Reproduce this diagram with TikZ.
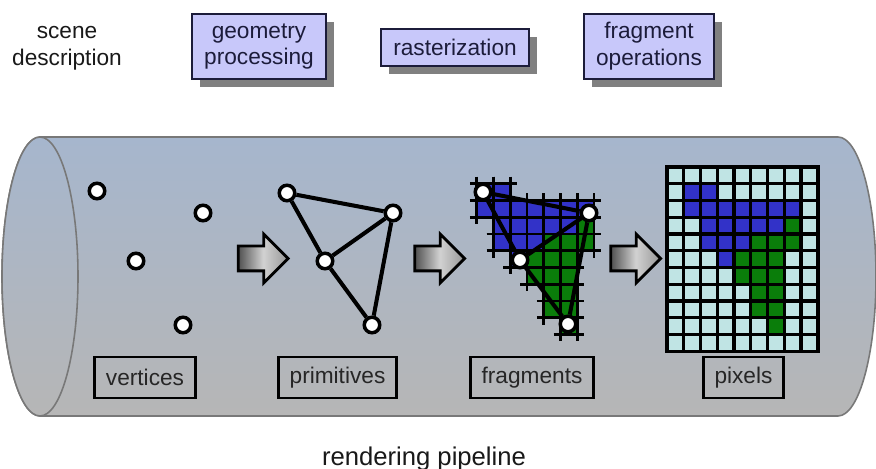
\documentclass[tikz,border=0pt]{standalone}
\usepackage{fontspec}
\setmainfont{Liberation Sans}
\usepackage{tikz}
\usetikzlibrary{arrows.meta, shapes.arrows, shadows, calc, positioning}
\definecolor{tubeTop}{RGB}{166,182,205}
\definecolor{tubeBottom}{RGB}{182,182,182}
\definecolor{tubeEdge}{RGB}{120,120,120}
\definecolor{stageFill}{RGB}{200,200,250}
\definecolor{stageText}{RGB}{28,28,58}
\definecolor{shadowGray}{RGB}{128,128,128}
\definecolor{arrowDark}{RGB}{80,80,80}
\definecolor{arrowLight}{RGB}{210,210,210}
\definecolor{arrowMid}{RGB}{150,150,150}
\definecolor{fragBlue}{RGB}{50,50,200}
\definecolor{fragGreen}{RGB}{10,125,10}
\definecolor{pixLight}{RGB}{192,228,228}
\newcommand{\stagefont}{\fontsize{12.9}{15.3}\selectfont}
\newcommand{\pixsz}{16.75}
% covered cells (column/row) of the 9x11 raster
\newcommand{\bluecells}{1/1,2/1,1/2,2/2,3/2,4/2,5/2,6/2,7/2,
                        2/3,3/3,4/3,5/3,6/3,2/4,3/4,4/4,3/5}
\newcommand{\greencells}{7/3,5/4,6/4,7/4,4/5,5/5,6/5,4/6,5/6,6/6,
                         5/7,6/7,5/8,6/8,6/9}

\begin{document}
\begin{tikzpicture}[
    x=0.02cm, y=-0.02cm,
    % Pipeline stage on top: lavender box with hard grey shadow
    stage/.style={
        rectangle, draw=stageText, fill=stageFill,
        line width=1.2pt, text=stageText,
        align=center, font=\stagefont,
        inner xsep=0.24cm, inner ysep=4pt,
        general shadow={fill=shadowGray,
                        shadow xshift=0.16cm, shadow yshift=-0.16cm}
    },
    % Data label inside the tube
    datalbl/.style={
        rectangle, draw=black, line width=1.7pt,
        text=black!85, font=\stagefont,
        inner xsep=0.22cm, minimum height=0.82cm
    },
    % Scene point: white dot, black ring
    vtx/.style={circle, draw=black, fill=white, line width=2pt,
                minimum size=0.31cm, inner sep=0pt},
    wire/.style={line width=2.3pt, draw=black},
    % Fat arrow between the stages
    flow/.style={
        single arrow, draw=black, line width=1.6pt,
        inner xsep=0pt, inner ysep=0.22cm,
        single arrow head extend=0.24cm,
        minimum height=1.0cm,
        left color=arrowDark, right color=arrowMid,
        middle color=arrowLight
    },
    % Grid lines round one covered fragment
    fragcell/.pic={
        \draw[line width=1.6pt]
            (-7,0) -- (23.75,0)  (-7,16.75) -- (23.75,16.75)
            (0,-7) -- (0,23.75)  (16.75,-7) -- (16.75,23.75);
    }
]
\useasboundingbox (0,0) rectangle (876,469);
% ── TUBE ──────────────────────────────────────────────────────
\path[draw=tubeEdge, line width=0.9pt,
      top color=tubeTop, bottom color=tubeBottom]
    (40,137) -- (838,137)
    arc[start angle=-90, end angle=90, x radius=38, y radius=139.5]
    -- (40,416)
    arc[start angle=90, end angle=270, x radius=38, y radius=139.5]
    -- cycle;
\path[draw=tubeEdge, line width=0.9pt,
      top color=tubeTop, bottom color=tubeBottom]
    (40,276.5) ellipse[x radius=38, y radius=139.5];
% ── TOP ROW: stages ───────────────────────────────────────────
\node[align=center, font=\stagefont, text=black!90]
                       (scene)   at (67,48.5)  {scene\\description};
\node[stage, minimum width=2.62cm, minimum height=1.3cm]
                       (geom)    at (259,46.5) {geometry\\processing};
\node[stage, minimum width=2.9cm, minimum height=0.74cm]
                       (raster)  at (455,47.5) {rasterization};
\node[stage, minimum width=2.58cm, minimum height=1.3cm]
                       (fragops) at (649,46.5) {fragment\\operations};
% ── VERTICES ──────────────────────────────────────────────────
\node[vtx] (v1) at (97,191)  {};
\node[vtx] (v2) at (203,213) {};
\node[vtx] (v3) at (136,261) {};
\node[vtx] (v4) at (183,325) {};
% ── PRIMITIVES ────────────────────────────────────────────────
\node[vtx] (p1) at (287,193) {};
\node[vtx] (p2) at (393,213) {};
\node[vtx] (p3) at (325,261) {};
\node[vtx] (p4) at (372,325) {};
\draw[wire] (p1) -- (p2);
\draw[wire] (p1) -- (p3);
\draw[wire] (p2) -- (p3);
\draw[wire] (p2) -- (p4);
\draw[wire] (p3) -- (p4);
% ── FRAGMENTS ─────────────────────────────────────────────────
\foreach \c/\r in \bluecells
    \fill[fragBlue] ({460+\c*\pixsz},{167+\r*\pixsz}) rectangle ++(\pixsz,\pixsz);
\foreach \c/\r in \greencells
    \fill[fragGreen] ({460+\c*\pixsz},{167+\r*\pixsz}) rectangle ++(\pixsz,\pixsz);
\foreach \c/\r in \bluecells
    \pic at ({460+\c*\pixsz},{167+\r*\pixsz}) {fragcell};
\foreach \c/\r in \greencells
    \pic at ({460+\c*\pixsz},{167+\r*\pixsz}) {fragcell};
\node[vtx] (f1) at (483,192) {};
\node[vtx] (f2) at (589,213) {};
\node[vtx] (f3) at (520,260) {};
\node[vtx] (f4) at (568,324) {};
\draw[wire] (f1) -- (f2);
\draw[wire] (f1) -- (f3);
\draw[wire] (f2) -- (f3);
\draw[wire] (f2) -- (f4);
\draw[wire] (f3) -- (f4);
% ── PIXELS ────────────────────────────────────────────────────
\fill[black] (665,165) rectangle (819.75,353.25);
\foreach \c in {0,...,8}
    \foreach \r in {0,...,10}
        \fill[pixLight] ({667+\c*\pixsz+1.6},{167+\r*\pixsz+1.6}) rectangle ++(13.55,13.55);
\foreach \c/\r in \bluecells
    \fill[fragBlue] ({667+\c*\pixsz+1.6},{167+\r*\pixsz+1.6}) rectangle ++(13.55,13.55);
\foreach \c/\r in \greencells
    \fill[fragGreen] ({667+\c*\pixsz+1.6},{167+\r*\pixsz+1.6}) rectangle ++(13.55,13.55);
% ── FAT ARROWS ────────────────────────────────────────────────
\node[flow] (go1) at (257,258.5) {};
\node[flow] (go2) at (433.5,258.5) {};
\node[flow] (go3) at (629.5,258.5) {};
% ── LABELS IN THE TUBE ────────────────────────────────────────
\node[datalbl] (lblvert)  at (145,377.5)   {vertices};
\node[datalbl] (lblprim)  at (337.5,377.5) {primitives};
\node[datalbl] (lblfrag)  at (532,377.5)   {fragments};
\node[datalbl] (lblpix)   at (743.5,377.5) {pixels};
\node[font=\fontsize{14.6}{17}\selectfont, text=black!90, anchor=base]
    (title) at (424,465.5) {rendering pipeline};
\end{tikzpicture}
\end{document}
